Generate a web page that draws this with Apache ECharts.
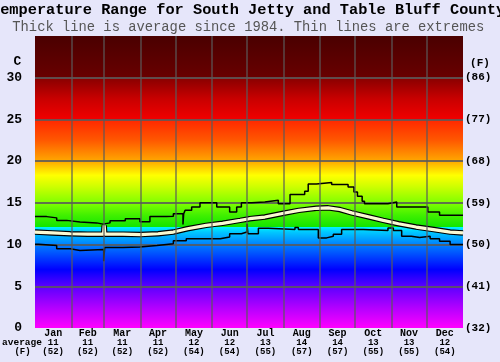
<!DOCTYPE html>
<html>
<head>
<meta charset="utf-8">
<script src="https://cdn.jsdelivr.net/npm/echarts@6/dist/echarts.min.js"></script>
<style>
  html, body { margin: 0; padding: 0; background: #e6e6fa; }
  #chart { width: 500px; height: 362px; }
</style>
</head>
<body>
<div id="chart"></div>
<script>
const FONT = "'Liberation Mono', 'Courier New', monospace";

const months = ["Jan", "Feb", "Mar", "Apr", "May", "Jun", "Jul", "Aug", "Sep", "Oct", "Nov", "Dec"];
const monthAvgC = [11, 11, 11, 11, 12, 12, 13, 14, 14, 13, 13, 12];
const monthAvgF = [52, 52, 52, 52, 54, 54, 55, 57, 57, 55, 55, 54];
const monthStart = [0, 31, 59, 90, 120, 151, 181, 212, 243, 273, 304, 334, 365];

// daily records (day of year, deg C)
const maxDay = [0, 10, 18.5, 27, 38.4, 52.6, 58, 64, 77, 89.5, 98, 112, 118, 126.2, 126.8, 128, 133.6, 140.7, 155, 166, 172, 176, 184.8, 196, 207.5, 217.5, 230, 233, 240, 253, 267, 272, 275, 279, 281, 301, 308.5, 335, 345, 365];
const maxC = [13.35, 13.2, 12.9, 12.7, 12.6, 12.45, 12.6, 12.85, 13.1, 12.75, 13.35, 13.4, 13.7, 12.4, 13.7, 14.1, 14.5, 15.0, 14.5, 13.9, 14.5, 15.0, 15.1, 15.3, 14.9, 16.0, 16.4, 17.25, 17.45, 17.2, 16.9, 16.3, 15.8, 15.2, 14.9, 15.1, 14.5, 13.9, 13.5, 13.5];

const minDay = [0, 3, 18.5, 30, 38.4, 58.6, 59.4, 75, 89.5, 104, 118, 129, 158, 166, 176, 180.8, 181.6, 190.5, 199, 221.7, 224.6, 241.6, 248.7, 254.4, 261.5, 280, 301, 305.6, 312.7, 321, 328, 337, 345, 354, 365];
const minC = [10.05, 9.9, 9.5, 9.3, 9.4, 8.0, 9.65, 9.7, 9.9, 10.1, 10.45, 10.7, 10.9, 11.3, 11.5, 12.5, 11.3, 11.95, 11.8, 12.05, 11.8, 10.8, 11.0, 11.25, 11.8, 11.7, 12.0, 11.7, 11.0, 10.85, 11.0, 10.7, 10.4, 10.0, 10.0];

const avgDay = [0, 15, 30, 45, 58.5, 59, 59.5, 75, 90, 105, 118, 130, 146, 160, 175, 183, 196, 212, 225, 240, 250, 260, 270, 285, 297, 310, 325, 340, 354, 365];
const avgC = [11.5, 11.4, 11.3, 11.25, 11.25, 12.3, 11.25, 11.25, 11.2, 11.3, 11.5, 11.9, 12.3, 12.55, 12.9, 13.1, 13.3, 13.75, 14.1, 14.35, 14.4, 14.2, 13.8, 13.3, 12.9, 12.5, 12.1, 11.8, 11.5, 11.4];

const zip = (xs, ys) => xs.map((x, i) => [x, ys[i]]);
const monthCenters = months.map((m, i) => (monthStart[i] + monthStart[i + 1]) / 2);

const Y_MAX = 35;
// background colour scale, by temperature
const bgStops = [
  [0, "#ff00ff"], [2.5, "#b000ff"], [5, "#5a00ff"], [7, "#0000ff"],
  [8.5, "#0040ff"], [10, "#0080ff"], [11.5, "#00c8ff"], [12.05, "#00f0ff"],
  [12.06, "#10e400"], [13.5, "#40f000"], [15, "#80ff00"], [17, "#d0ff00"],
  [18.3, "#ffff00"], [20, "#ffa800"], [22.5, "#ff5800"], [24.9, "#ff2800"],
  [25.1, "#f00000"], [27.5, "#c80000"], [29.9, "#8a0000"], [30.1, "#680000"],
  [35, "#4a0000"]
];

const chart = echarts.init(document.getElementById("chart"));

chart.setOption({
  backgroundColor: "#e6e6fa",
  animation: false,
  textStyle: { fontFamily: FONT },
  graphic: [
    { type: "text", x: -9, y: 10, style: { text: "Temperature Range for South Jetty and Table Bluff County", font: "bold 15.3px " + FONT, fill: "#000", align: "left", verticalAlign: "middle" } },
    { type: "text", x: 12.3, y: 27, style: { text: "Thick line is average since 1984. Thin lines are extremes", font: "13.8px " + FONT, fill: "#555", align: "left", verticalAlign: "middle" } },
    { type: "text", x: 17.5, y: 62, style: { text: "C", font: "bold 13px " + FONT, fill: "#000", align: "center", verticalAlign: "middle" } },
    { type: "text", x: 480, y: 63, style: { text: "(F)", font: "bold 11px " + FONT, fill: "#000", align: "center", verticalAlign: "middle" } },
    { type: "text", x: 22, y: 343, style: { text: "average", font: "bold 9.5px " + FONT, fill: "#000", align: "center", verticalAlign: "middle" } },
    { type: "text", x: 22.5, y: 352, style: { text: "(F)", font: "bold 9px " + FONT, fill: "#000", align: "center", verticalAlign: "middle" } }
  ],
  grid: {
    left: 35, right: 37, top: 36, bottom: 34,
    show: true, borderWidth: 0,
    backgroundColor: {
      type: "linear", x: 0, y: 1, x2: 0, y2: 0,
      colorStops: bgStops.map(s => ({ offset: s[0] / Y_MAX, color: s[1] }))
    }
  },
  xAxis: {
    type: "value", min: 0, max: 365,
    axisLine: { show: false },
    axisTick: { show: false },
    splitLine: { show: false },
    axisLabel: {
      customValues: monthCenters,
      margin: 1,
      interval: 0,
      formatter: function (value) {
        const i = monthCenters.findIndex(c => Math.abs(c - value) < 0.01);
        if (i < 0) return "";
        return "{m|" + months[i] + "}\n{n|" + monthAvgC[i] + "}\n{n|(" + monthAvgF[i] + ")}";
      },
      rich: {
        m: { fontFamily: FONT, fontSize: 10, fontWeight: "bold", color: "#000", lineHeight: 9 },
        n: { fontFamily: FONT, fontSize: 9, fontWeight: "bold", color: "#000", lineHeight: 9 }
      }
    }
  },
  yAxis: [
    {
      type: "value", min: 0, max: Y_MAX, interval: 5, position: "left",
      axisLine: { show: false }, axisTick: { show: false },
      axisLabel: {
        margin: 13, color: "#000", fontFamily: FONT, fontSize: 13, fontWeight: "bold",
        formatter: v => (v === Y_MAX ? "" : String(v))
      },
      splitLine: {
        show: true, showMinLine: false, showMaxLine: false,
        lineStyle: { color: "rgba(90,90,90,0.85)", width: 2 }
      }
    },
    {
      type: "value", min: 0, max: Y_MAX, interval: 5, position: "right",
      axisLine: { show: false }, axisTick: { show: false },
      splitLine: { show: false },
      axisLabel: {
        margin: 2, color: "#000", fontFamily: FONT, fontSize: 11, fontWeight: "bold",
        formatter: v => (v === Y_MAX ? "" : "(" + Math.round(v * 9 / 5 + 32) + ")")
      }
    }
  ],
  series: [
    {
      name: "min", type: "line", step: "end", showSymbol: false, silent: true,
      data: zip(minDay, minC),
      lineStyle: { color: "#000", width: 1.5 },
      markLine: {
        silent: true, symbol: ["none", "none"],
        label: { show: false },
        lineStyle: { color: "rgba(90,90,90,0.8)", width: 1.5, type: "solid" },
        data: monthStart.slice(1, 12).map(d => ({ xAxis: d }))
      }
    },
    {
      name: "max", type: "line", step: "end", showSymbol: false, silent: true,
      data: zip(maxDay, maxC),
      lineStyle: { color: "#000", width: 1.5 }
    },
    {
      name: "avgOutline", type: "line", showSymbol: false, silent: true,
      data: zip(avgDay, avgC),
      lineStyle: { color: "#000", width: 5.5 }
    },
    {
      name: "avg", type: "line", showSymbol: false, silent: true,
      data: zip(avgDay, avgC),
      lineStyle: { color: "#fafad2", width: 3.2 }
    }
  ]
});
</script>
</body>
</html>
